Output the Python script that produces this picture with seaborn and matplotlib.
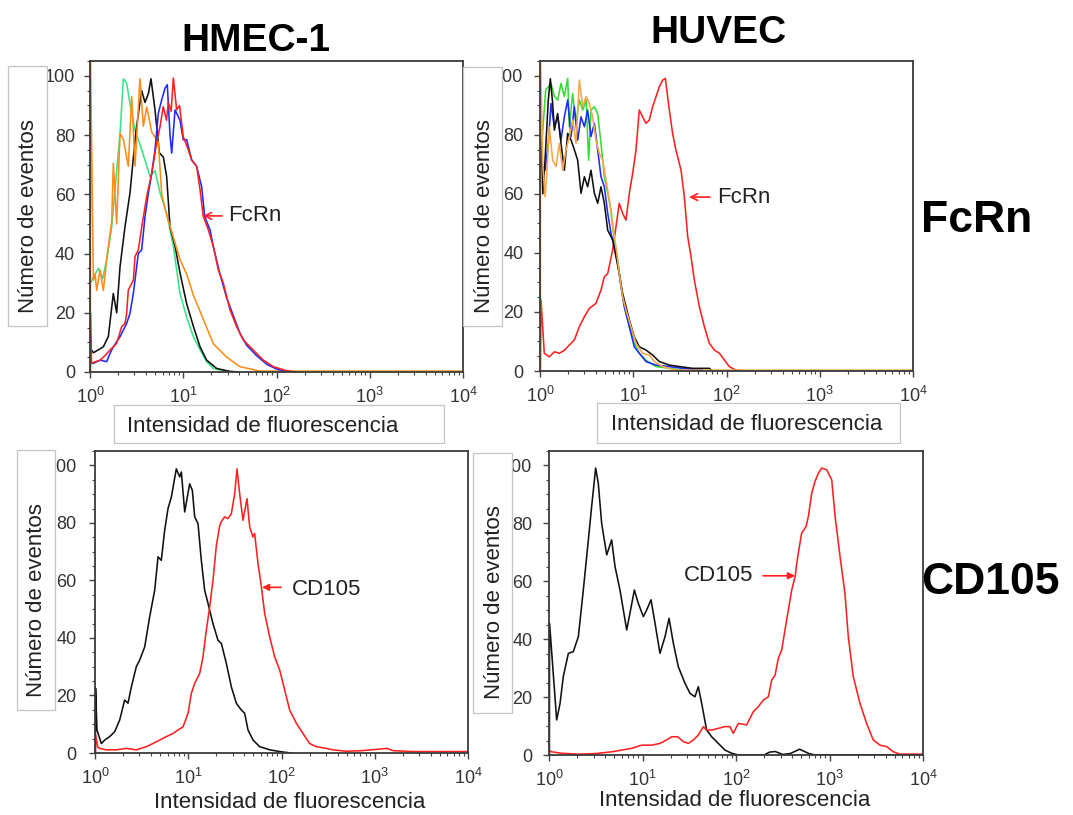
import numpy as np
import pandas as pd
import seaborn as sns
import matplotlib.pyplot as plt
from matplotlib.patches import Rectangle
from matplotlib.ticker import MultipleLocator, LogLocator, NullFormatter

# ---- datos (x en log10 de la intensidad, y = número de eventos) ----

# HMEC-1, FcRn
hmec_fcrn_verde_log = [0.005, 0.036, 0.09, 0.136, 0.179, 0.233, 0.286, 0.322, 0.358, 0.393, 0.429, 0.483, 0.529,
                       0.59, 0.644, 0.697, 0.751, 0.822, 0.894, 0.965, 1.037, 1.108, 1.18, 1.251, 1.323, 1.466, 1.6]
hmec_fcrn_verde = [30, 32, 35, 31.5, 38, 49, 68, 80.5, 99, 97.5, 90.5, 81.5, 77.5,
                   71.5, 66, 68, 60.5, 53.5, 42.5, 26.5, 18.5, 12, 7.5, 3.5, 1.2, 0.2, 0]

hmec_fcrn_negro_log = [0.005, 0.036, 0.09, 0.143, 0.197, 0.25, 0.286, 0.322, 0.375, 0.429, 0.465, 0.5, 0.554, 0.59,
                       0.626, 0.654, 0.697, 0.744, 0.787, 0.822, 0.858, 0.912, 0.965, 1.037, 1.108, 1.18, 1.251,
                       1.358, 1.501, 1.6]
hmec_fcrn_negro = [8, 6.5, 7.5, 8.5, 12, 26.5, 20, 35.5, 49, 60.5, 72.5, 83, 95, 91,
                   94, 99, 88.5, 74, 72.5, 66, 49, 42.5, 33.5, 23, 15.5, 8.5, 4,
                   1.2, 0.2, 0]

hmec_fcrn_naranja_log = [0.004, 0.006, 0.036, 0.054, 0.072, 0.107, 0.143, 0.179, 0.233, 0.25, 0.286, 0.322, 0.358,
                         0.411, 0.447, 0.483, 0.536, 0.572, 0.608, 0.662, 0.733, 0.769, 0.822, 0.894, 0.965, 1.037,
                         1.108, 1.18, 1.251, 1.323, 1.466, 1.609, 1.823, 4.0]
hmec_fcrn_naranja = [0, 105, 31, 33, 27.5, 34.5, 27.5, 38, 51, 70.5, 50, 80.5, 78.5,
                     69.5, 93, 69.5, 99, 83, 89.5, 81, 77.5, 60, 53, 45.5, 38, 33,
                     26, 20.5, 15, 9.5, 5, 1.8, 0.3, 0.3]

hmec_fcrn_azul_log = [0.005, 0.036, 0.107, 0.179, 0.215, 0.25, 0.322, 0.393, 0.429, 0.465, 0.518, 0.554, 0.59, 0.626,
                      0.662, 0.697, 0.733, 0.769, 0.804, 0.829, 0.858, 0.876, 0.912, 0.965, 1.0, 1.037, 1.09, 1.144,
                      1.197, 1.23, 1.287, 1.323, 1.394, 1.466, 1.537, 1.609, 1.68, 1.787, 1.9, 2.0, 2.1, 2.2]
hmec_fcrn_azul = [3, 2.9, 4, 3.5, 6.3, 8.5, 11.9, 16.4, 19.8, 26.6, 40, 41.2, 52.5, 60.4,
                  67.1, 75, 87.4, 91.9, 95.8, 97, 80, 73.9, 88.5, 85, 78.4, 78.4, 71.6, 69.4,
                  62.6, 52.5, 48, 42.3, 33, 25, 19, 13, 9, 5.5, 2.5, 1, 0.2, 0]

hmec_fcrn_rojo_log = [0.004, 0.004, 0.016, 0.06, 0.105, 0.16, 0.214, 0.25, 0.286, 0.34, 0.376, 0.393, 0.411, 0.465,
                      0.483, 0.518, 0.56, 0.608, 0.662, 0.715, 0.751, 0.786, 0.82, 0.84, 0.87, 0.894, 0.929, 0.96,
                      1.0, 1.054, 1.09, 1.144, 1.18, 1.215, 1.269, 1.323, 1.376, 1.43, 1.501, 1.573, 1.644, 1.751,
                      1.859, 1.966, 2.1, 2.2]
hmec_fcrn_rojo = [0, 20, 2.9, 3.5, 3.9, 5.5, 7.4, 8.5, 9.7, 15.3, 16.4, 19.8, 27.7, 31,
                  39, 41.2, 50, 59.2, 67.1, 77.3, 82.9, 89.6, 85, 91, 88, 99.2, 88.5, 90,
                  79.5, 75, 71.6, 69.4, 61.5, 52.5, 48, 42.3, 34.5, 30, 21, 15.3, 10.8, 7.4,
                  4, 1.8, 0.5, 0]

# HUVEC, FcRn
huvec_fcrn_rojo_log = [0.004, 0.011, 0.046, 0.1, 0.154, 0.207, 0.261, 0.315, 0.368, 0.422, 0.476, 0.529, 0.6, 0.654,
                       0.69, 0.726, 0.779, 0.815, 0.85, 0.886, 0.922, 0.958, 0.994, 1.029, 1.065, 1.1, 1.136, 1.172,
                       1.208, 1.244, 1.28, 1.315, 1.344, 1.387, 1.422, 1.458, 1.512, 1.548, 1.584, 1.62, 1.655,
                       1.709, 1.763, 1.816, 1.87, 1.924, 1.978, 2.03, 2.1, 2.2]
huvec_fcrn_rojo = [0, 24, 6, 4.8, 6.5, 6, 7, 8.8, 10.5, 15, 18.4, 21.2, 22.9, 27.4,
                   31.9, 33, 41, 48.9, 56.8, 53.4, 51.1, 60.2, 67, 74.8, 88.4, 86.1, 83.9, 85,
                   89.5, 92.9, 96.3, 98.5, 99.1, 88.4, 80.5, 74.8, 68.1, 59, 45.5, 38.7, 30.8,
                   21.8, 15, 9.4, 7.1, 6, 3.7, 1.5, 0.3, 0]

huvec_fcrn_verde_log = [0.015, 0.061, 0.118, 0.154, 0.19, 0.225, 0.261, 0.297, 0.315, 0.35, 0.386, 0.422, 0.458,
                        0.494, 0.522, 0.547, 0.583, 0.619, 0.654, 0.69, 0.726, 0.762, 0.797, 0.833, 0.869, 0.904,
                        0.958, 1.011, 1.065, 1.136, 1.244, 1.387, 1.53]
huvec_fcrn_verde = [75, 95.2, 97.4, 93, 91.8, 97.4, 93, 99.1, 82.7, 94, 83.9, 91.8, 88.4,
                    91.8, 71.4, 88.4, 89.5, 87.2, 77.1, 65.8, 60.2, 54.5, 44.4, 37.6, 28.6, 21.8,
                    15, 9.4, 6, 3.7, 1.5, 0.9, 0.3]

huvec_fcrn_azul_log = [0.015, 0.054, 0.089, 0.118, 0.154, 0.19, 0.225, 0.261, 0.297, 0.333, 0.368, 0.404, 0.44,
                       0.476, 0.511, 0.547, 0.583, 0.619, 0.654, 0.69, 0.726, 0.762, 0.797, 0.833, 0.869, 0.904,
                       0.958, 1.011, 1.065, 1.136, 1.244, 1.387, 1.53, 1.745]
huvec_fcrn_azul = [70, 68, 77, 90.6, 82.7, 86.1, 78.2, 86.1, 91.8, 79.4, 89.5, 78.2, 86.1,
                   82.7, 88.4, 79.4, 83.9, 74.8, 65.8, 62.4, 53.4, 46.6, 42.1, 36.5, 28.6, 21.8,
                   15, 8.2, 6, 3.2, 2, 1.5, 0.9, 0.3]

huvec_fcrn_negro_log = [0.01, 0.03, 0.054, 0.089, 0.111, 0.136, 0.154, 0.189, 0.225, 0.261, 0.297, 0.333, 0.368,
                        0.404, 0.44, 0.476, 0.511, 0.547, 0.583, 0.619, 0.654, 0.69, 0.726, 0.779, 0.815, 0.85,
                        0.886, 0.922, 0.958, 1.011, 1.065, 1.136, 1.208, 1.28, 1.387, 1.494, 1.637, 1.816, 1.85]
huvec_fcrn_negro = [80, 60, 71.4, 91.8, 99, 90.6, 81.6, 87.2, 77.1, 68, 80.5, 78.2, 75,
                    71.4, 60.2, 65.8, 62.4, 68, 60.2, 56.8, 62.4, 56.8, 47.7, 44.4, 38.7, 33.1,
                    26.3, 21.8, 17.3, 11.6, 8.2, 7.1, 5.4, 3.2, 2, 1.5, 0.9, 0.9, 0]

huvec_fcrn_naranja_log = [0.004, 0.006, 0.03, 0.054, 0.071, 0.1, 0.136, 0.172, 0.207, 0.243, 0.279, 0.315, 0.35,
                          0.386, 0.422, 0.458, 0.494, 0.529, 0.565, 0.6, 0.636, 0.672, 0.708, 0.743, 0.779, 0.815,
                          0.85, 0.886, 0.922, 0.976, 1.029, 1.1, 1.172, 1.226, 1.315, 1.458, 4.0]
huvec_fcrn_naranja = [0, 105, 70, 59, 65.8, 82.7, 71.4, 69.2, 77.1, 68, 74.8, 79.4, 85,
                      77.1, 98.5, 89.5, 92.9, 90.6, 86.1, 78.2, 73.7, 71.4, 64.7, 57.9, 48.9, 42.1,
                      33.1, 25.2, 20.7, 15, 9.4, 6, 5.4, 3.2, 1.5, 0.3, 0.3]

# HMEC-1, CD105
hmec_cd105_negro_log = [0.004, 0.006, 0.021, 0.068, 0.104, 0.157, 0.211, 0.265, 0.318, 0.354, 0.39, 0.443, 0.479,
                        0.533, 0.586, 0.64, 0.676, 0.711, 0.747, 0.783, 0.819, 0.872, 0.908, 0.926, 0.962, 1.015,
                        1.044, 1.069, 1.105, 1.14, 1.176, 1.212, 1.265, 1.319, 1.355, 1.409, 1.462, 1.516, 1.57,
                        1.605, 1.641, 1.695, 1.766, 1.874, 1.98, 2.1]
hmec_cd105_negro = [0, 22.5, 8, 3.3, 4.5, 5.7, 7.4, 11.5, 18.4, 17.3, 23, 30, 32.3,
                    36.9, 47.3, 56.6, 68.2, 67, 77.4, 85, 89, 98.8, 96, 97.7, 83.8, 93.6,
                    91.3, 82.1, 79.7, 67, 56.6, 52, 45, 39.2, 38.1, 31.1, 23, 17.3, 14.9,
                    13.8, 8, 4.5, 2.2, 1.1, 0.5, 0]

hmec_cd105_rojo_log = [0.004, 0.006, 0.03, 0.05, 0.122, 0.229, 0.336, 0.443, 0.55, 0.622, 0.694, 0.765, 0.837, 0.89,
                       0.944, 0.998, 1.033, 1.069, 1.123, 1.158, 1.194, 1.23, 1.265, 1.301, 1.337, 1.355, 1.39, 1.426,
                       1.462, 1.498, 1.523, 1.551, 1.587, 1.63, 1.659, 1.695, 1.712, 1.748, 1.784, 1.82, 1.873,
                       1.927, 1.981, 2.034, 2.088, 2.16, 2.23, 2.302, 2.374, 2.48, 2.552, 2.7, 2.85, 3.0, 3.13,
                       3.2, 3.4, 4.0]
hmec_cd105_rojo = [0, 6.3, 2, 1.6, 1.1, 1.1, 1.6, 1.1, 2.2, 3.3, 4.5, 5.7, 6.8, 8,
                   9.1, 13.8, 20.7, 24.2, 27.7, 33.4, 42.7, 50.8, 60, 72, 79, 80.5, 82.1, 81.5,
                   83.2, 90.2, 98.8, 90.2, 80.9, 88.4, 78.6, 75.1, 76.3, 65.9, 57.8, 48.5, 40.4,
                   33.4, 28.8, 21.9, 14.9, 10.3, 6.8, 3.3, 2.2, 1.6, 1.1, 0.6, 0.8, 1.2, 1.6,
                   0.8, 0.5, 0.5]

# HUVEC, CD105
huvec_cd105_negro_log = [0.004, 0.006, 0.082, 0.118, 0.153, 0.207, 0.26, 0.314, 0.367, 0.421, 0.456, 0.499, 0.527,
                         0.563, 0.617, 0.67, 0.706, 0.759, 0.795, 0.831, 0.866, 0.913, 0.955, 1.009, 1.045, 1.091,
                         1.134, 1.187, 1.241, 1.284, 1.33, 1.383, 1.454, 1.508, 1.561, 1.597, 1.633, 1.686, 1.74,
                         1.811, 1.882, 1.954, 2.025, 2.3, 2.36, 2.42, 2.5, 2.58, 2.68, 2.78, 2.85, 4.0]
huvec_cd105_negro = [0, 45.5, 12.1, 17.8, 27.1, 35.1, 35.7, 40.9, 57, 74.3, 85.8, 99.1, 93.9,
                     80.1, 69.1, 74.3, 65.1, 57, 50.1, 43.2, 49, 57, 52.4, 47.8, 50.1, 53.6,
                     45.5, 35.1, 40.9, 47.2, 38.6, 30.5, 24.8, 21.3, 20.1, 23.6, 17.8, 8.6, 6.3,
                     4, 1.7, 0.6, 0, 0, 1, 1.2, 0.2, 0.5, 2, 0.5, 0, 0]

huvec_cd105_rojo_log = [0.004, 0.006, 0.029, 0.136, 0.31, 0.5, 0.67, 0.777, 0.884, 0.991, 1.098, 1.187, 1.258,
                        1.312, 1.376, 1.437, 1.49, 1.544, 1.597, 1.651, 1.686, 1.74, 1.811, 1.882, 1.936, 1.971,
                        2.025, 2.114, 2.186, 2.239, 2.293, 2.346, 2.382, 2.418, 2.453, 2.489, 2.524, 2.56, 2.596,
                        2.632, 2.66, 2.702, 2.749, 2.774, 2.81, 2.845, 2.881, 2.917, 2.971, 3.024, 3.06, 3.113,
                        3.165, 3.201, 3.254, 3.326, 3.397, 3.468, 3.54, 3.611, 3.682, 3.753, 4.0]
huvec_cd105_rojo = [0, 1.5, 1.1, 0.6, 0.3, 0.5, 1.1, 1.7, 2.3, 3.4, 3.4, 4, 5.2,
                    6.3, 6.3, 4.6, 4, 5.2, 6.9, 9.8, 8.6, 8.6, 9.2, 9.8, 9.8, 7.5,
                    10.9, 10.4, 15, 16.7, 19, 20.1, 25.9, 27.6, 33.4, 36.3, 43.2, 50.1, 57,
                    61.6, 68.5, 76.6, 78.9, 82.4, 90.4, 94.5, 97.3, 99.1, 98.5, 95, 82.4, 68.5,
                    55.9, 40.9, 27.1, 17.8, 10.9, 5.2, 3.4, 2.9, 1.1, 0.3, 0.3]

celulas = ['HMEC-1', 'HUVEC']
marcadores = ['FcRn', 'CD105']
ytxt = 'Número de eventos'
xtxt = 'Intensidad de fluorescencia'

# ---- estilo ----
sns.set_theme(style='ticks')
plt.rcParams['font.family'] = ['Liberation Sans', 'DejaVu Sans']
plt.rcParams['axes.unicode_minus'] = False

W, H = 1073, 815
fig = plt.figure(figsize=(W / 100, H / 100), dpi=100)
fig.patch.set_facecolor('white')


def caja_px(l, t, r, b):
    # rectángulo en píxeles de la imagen (origen arriba a la izquierda) -> fracción de figura
    return [l / W, 1 - b / H, (r - l) / W, (b - t) / H]


def tabla(curvas):
    partes = []
    for nombre, (lx, ly) in curvas.items():
        partes.append(pd.DataFrame({'intensidad': np.power(10.0, lx), 'eventos': ly, 'muestra': nombre}))
    return pd.concat(partes, ignore_index=True)


def panel(rect, curvas, colores, ypad):
    ax = fig.add_axes(caja_px(*rect))
    ax.set_xscale('log')
    df = tabla(curvas)
    sns.lineplot(data=df, x='intensidad', y='eventos', hue='muestra', hue_order=list(curvas),
                 palette=colores, estimator=None, sort=False, legend=False, linewidth=1.15, ax=ax)
    ax.set_xlim(1, 1e4)
    ax.set_ylim(0, 105)
    ax.yaxis.set_major_locator(MultipleLocator(20))
    ax.yaxis.set_minor_locator(MultipleLocator(5))
    ax.xaxis.set_major_locator(LogLocator(base=10))
    ax.xaxis.set_minor_locator(LogLocator(base=10, subs=np.arange(2, 10)))
    ax.xaxis.set_minor_formatter(NullFormatter())
    ax.tick_params(which='major', direction='out', length=4.5, width=1, color='#444444',
                   labelsize=13, labelcolor='#333333')
    ax.tick_params(which='minor', direction='out', length=2.5, width=0.8, color='#444444')
    ax.tick_params(axis='x', which='major', pad=6.5)
    ax.tick_params(axis='y', which='major', pad=ypad)
    for s in ax.spines.values():
        s.set_color('#3a3a3a')
        s.set_linewidth(1.3)
    ax.set_xlabel('')
    ax.set_ylabel('')
    return ax


def caja(l, t, r, b):
    x, y, w, h = caja_px(l, t, r, b)
    fig.patches.append(Rectangle((x, y), w, h, transform=fig.transFigure, facecolor='white',
                                 edgecolor='#c4c4c4', linewidth=0.9, zorder=2))


def texto(x, y, s, **kw):
    fig.text(x / W, 1 - y / H, s, zorder=3, **kw)


rojo = '#ff2020'

ax1 = panel((90, 61, 463, 372),
            {'verde': (hmec_fcrn_verde_log, hmec_fcrn_verde),
             'negro': (hmec_fcrn_negro_log, hmec_fcrn_negro),
             'naranja': (hmec_fcrn_naranja_log, hmec_fcrn_naranja),
             'azul': (hmec_fcrn_azul_log, hmec_fcrn_azul),
             'rojo': (hmec_fcrn_rojo_log, hmec_fcrn_rojo)},
            {'verde': '#33e58a', 'negro': '#111111', 'naranja': '#ff8c1a', 'azul': '#1f2bff', 'rojo': rojo},
            ypad=6.3)

ax2 = panel((540, 61, 913, 371),
            {'rojo': (huvec_fcrn_rojo_log, huvec_fcrn_rojo),
             'verde': (huvec_fcrn_verde_log, huvec_fcrn_verde),
             'azul': (huvec_fcrn_azul_log, huvec_fcrn_azul),
             'negro': (huvec_fcrn_negro_log, huvec_fcrn_negro),
             'naranja': (huvec_fcrn_naranja_log, huvec_fcrn_naranja)},
            {'rojo': rojo, 'verde': '#33dd33', 'azul': '#1f2bff', 'negro': '#111111', 'naranja': '#f7a64a'},
            ypad=7.5)

ax3 = panel((95, 451, 468, 753),
            {'negro': (hmec_cd105_negro_log, hmec_cd105_negro),
             'rojo': (hmec_cd105_rojo_log, hmec_cd105_rojo)},
            {'negro': '#111111', 'rojo': rojo},
            ypad=8.8)

ax4 = panel((549, 451, 923, 755),
            {'negro': (huvec_cd105_negro_log, huvec_cd105_negro),
             'rojo': (huvec_cd105_rojo_log, huvec_cd105_rojo)},
            {'negro': '#111111', 'rojo': rojo},
            ypad=7.5)

# flechas y etiquetas dentro de los paneles
flecha_abierta = dict(arrowstyle='->', color=rojo, lw=1.2, mutation_scale=12, shrinkA=0, shrinkB=0)
flecha_llena = dict(arrowstyle='-|>', color=rojo, lw=1.2, mutation_scale=10, shrinkA=0, shrinkB=0)

ax1.annotate('', xy=(10 ** 1.212, 52.7), xytext=(10 ** 1.416, 52.7), arrowprops=flecha_abierta)
ax1.text(10 ** 1.48, 52.7, marcadores[0], fontsize=16, color='#222222', ha='left', va='center')

ax2.annotate('', xy=(10 ** 1.598, 58.9), xytext=(10 ** 1.823, 58.9), arrowprops=flecha_abierta)
ax2.text(10 ** 1.898, 58.9, marcadores[0], fontsize=16, color='#222222', ha='left', va='center')

ax3.annotate('', xy=(10 ** 1.791, 57.6), xytext=(10 ** 1.995, 57.6), arrowprops=flecha_llena)
ax3.text(10 ** 2.113, 56.8, marcadores[1], fontsize=16, color='#222222', ha='left', va='center')

ax4.annotate('', xy=(10 ** 2.631, 61.9), xytext=(10 ** 2.289, 61.9), arrowprops=flecha_llena)
ax4.text(10 ** 2.182, 61.9, marcadores[1], fontsize=16, color='#222222', ha='right', va='center')

# cajas de los títulos de ejes
caja(8, 66, 47, 326)
caja(463, 67, 502, 326)
caja(17, 450, 55, 710)
caja(473, 453, 512, 713)
caja(114, 405, 444, 443)
caja(597, 403, 900, 443)

texto(29, 216, ytxt, rotation=90, fontsize=16, color='#222222', ha='center', va='center')
texto(485, 216, ytxt, rotation=90, fontsize=16, color='#222222', ha='center', va='center')
texto(37, 600, ytxt, rotation=90, fontsize=16, color='#222222', ha='center', va='center')
texto(494, 602, ytxt, rotation=90, fontsize=16, color='#222222', ha='center', va='center')

texto(263, 426, xtxt, fontsize=16, color='#222222', ha='center', va='center')
texto(747, 425, xtxt, fontsize=16, color='#222222', ha='center', va='center')
texto(290, 803, xtxt, fontsize=16, color='#222222', ha='center', va='center')
texto(735, 800, xtxt, fontsize=16, color='#222222', ha='center', va='center')

# títulos de columnas y filas
texto(256, 51, celulas[0], fontsize=28, fontweight='bold', color='black', ha='center', va='baseline')
texto(718, 43, celulas[1], fontsize=28, fontweight='bold', color='black', ha='center', va='baseline')
texto(921, 232, marcadores[0], fontsize=32, fontweight='bold', color='black', ha='left', va='baseline')
texto(921, 594, marcadores[1], fontsize=32, fontweight='bold', color='black', ha='left', va='baseline')

fig.savefig('out.png', dpi=100, facecolor='white')
